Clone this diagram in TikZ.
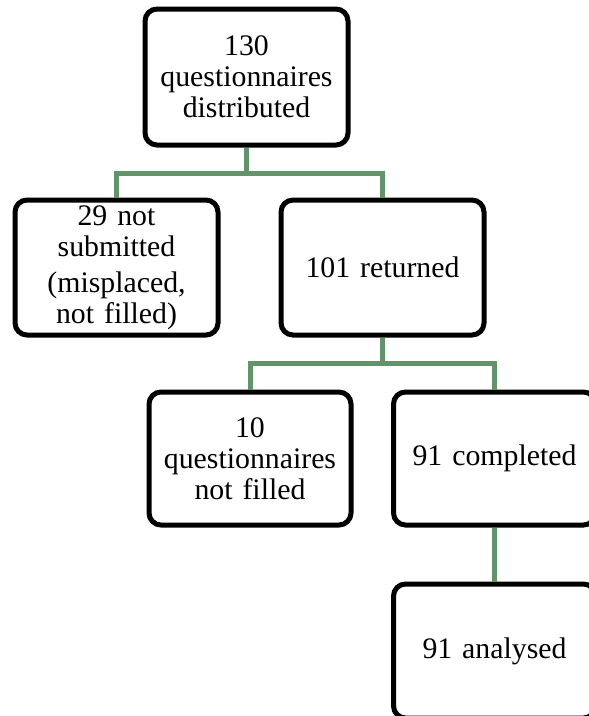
\documentclass[tikz,border=0pt]{standalone}
\usepackage{fontspec}
\setmainfont{Liberation Serif}
\definecolor{lineGreen}{RGB}{98,147,106}
\begin{document}
\begin{tikzpicture}[x=1pt,y=-1pt,
  box/.style={draw=black, line width=5pt, rounded corners=12pt, fill=white,
    minimum width=203pt, minimum height=135pt, inner sep=0pt,
    text width=195pt, align=center,
    font=\fontsize{29.8}{31}\selectfont},
  conn/.style={draw=lineGreen, line width=5pt, line join=miter}]
\useasboundingbox (0,0) rectangle (589,716);
\clip (0,0) rectangle (589,716);
\coordinate (j1) at (246.5,173);
\coordinate (j2) at (382.5,363);
\node[box, minimum height=136pt] (b1) at (246.5,77) {130\\questionnaires\\distributed};
\node[box] (b2) at (116.5,267.5) {29 not\\submitted\\[5pt](misplaced,\\not filled)};
\node[box] (b3) at (382.5,267.5) {101 returned};
\node[box, minimum width=202pt, minimum height=133pt] (b4) at (250,458.5) {10\\questionnaires\\not filled};
\node[box, minimum width=202pt, minimum height=133pt] (b5) at (494.5,458.5) {91 completed};
\node[box, minimum width=202pt, minimum height=134pt] (b6) at (494.5,651) {91 analysed};
\draw[conn] (b1.south) -- (j1);
\draw[conn] (j1) -| (b2.north);
\draw[conn] (j1) -| (b3.north);
\draw[conn] (b3.south) -- (j2);
\draw[conn] (j2) -| (b4.north);
\draw[conn] (j2) -| (b5.north);
\draw[conn] (b5.south) -- (b6.north);
\end{tikzpicture}
\end{document}
